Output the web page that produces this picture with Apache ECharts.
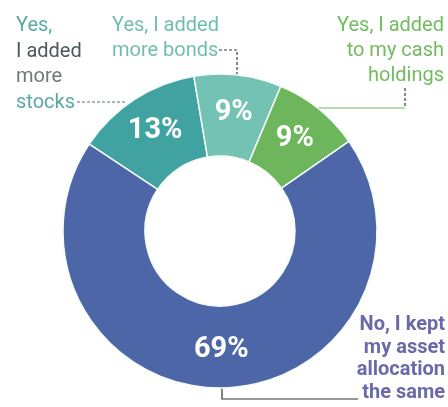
<!DOCTYPE html>
<html><head><meta charset="utf-8">
<script src="https://cdn.jsdelivr.net/npm/echarts@6/dist/echarts.min.js"></script>
<style>html,body{margin:0;padding:0;background:#fff}#c{width:448px;height:407px}</style>
</head><body><div id="c"></div>
<script>
const categories = ['Yes, I added more stocks', 'Yes, I added more bonds', 'Yes, I added to my cash holdings', 'No, I kept my asset allocation the same'];
const values = [13, 9, 9, 69];
const labelLines = [
  ['Yes,', 'I added', 'more', 'stocks'],
  ['Yes, I added', 'more bonds'],
  ['Yes, I added', 'to my cash', 'holdings'],
  ['No, I kept', 'my asset', 'allocation', 'the same']
];
const colors = ['#41a3a1', '#73c2b3', '#6db65b', '#4c66a8'];
const textColors = [['#5aaaa2', '#4b5958', '#6d7a78', '#5aaaa2'], ['#70bfae'], ['#72bb5f'], ['#6c69a9']];
const FONT = 'Roboto, "Liberation Sans", sans-serif';

const chart = echarts.init(document.getElementById('c'), null, {renderer: 'canvas'});

const graphics = [];
// text blocks: [x, firstY, lineHeight, align, bold]
const blocks = [
  [16, 26, 25.5, 'left', false],
  [112, 26, 25, 'left', false],
  [444, 26, 25, 'right', false],
  [445, 325, 22.5, 'right', true]
];
labelLines.forEach((lines, i) => {
  const b = blocks[i];
  lines.forEach((t, j) => {
    const tc = textColors[i];
    graphics.push({
      type: 'text', silent: true,
      style: {
        text: t, x: b[0], y: b[1] + j * b[2],
        textAlign: b[3], textVerticalAlign: 'middle',
        font: (b[4] ? 'bold ' : '') + '20px ' + FONT,
        fill: tc[Math.min(j, tc.length - 1)]
      }
    });
  });
});
// leader lines
const leaders = [
  {pts: [[77, 102], [126, 102]], color: '#5d7472', dash: [3, 2]},
  {pts: [[219, 50], [237, 50], [237, 75]], color: '#3a3a3a', dash: [3, 2]},
  {pts: [[405, 88], [405, 108]], color: '#3a3a3a', dash: [3, 2]},
  {pts: [[405, 108], [318, 108]], color: '#6db65b', dash: null},
  {pts: [[222, 388], [222, 399], [358, 399]], color: '#333', dash: null}
];
leaders.forEach(l => {
  graphics.push({
    type: 'polyline', silent: true,
    shape: {points: l.pts},
    style: {stroke: l.color, lineWidth: 1.2, lineDash: l.dash, fill: null}
  });
});

chart.setOption({
  animation: false,
  backgroundColor: '#fff',
  color: colors,
  series: [{
    type: 'pie',
    center: [220, 231],
    radius: [75, 157],
    startAngle: 146.4,
    clockwise: true,
    avoidLabelOverlap: false,
    itemStyle: {borderColor: '#f4fbf8', borderWidth: 1.5},
    label: {
      show: true, position: 'inside',
      formatter: p => p.value + '%',
      color: '#fff', fontSize: 29, fontWeight: 'bold', fontFamily: FONT
    },
    labelLine: {show: false},
    data: categories.map((c, i) => ({name: c, value: values[i]}))
  }],
  graphic: graphics
});
</script></body></html>
